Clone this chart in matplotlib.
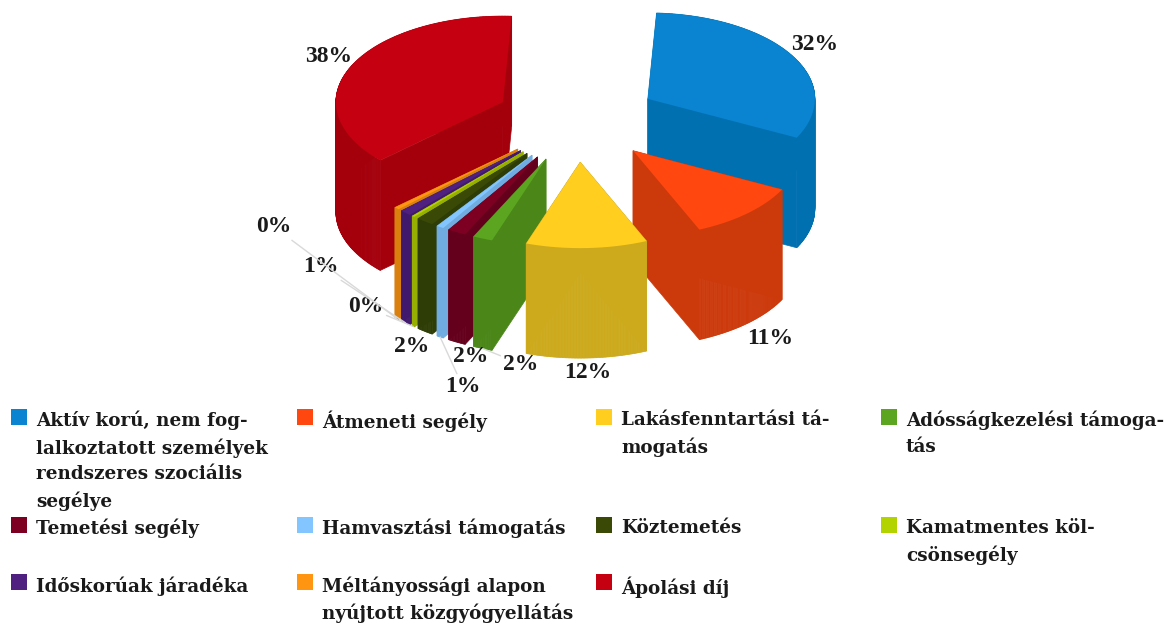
import numpy as np
import matplotlib
matplotlib.use("Agg")
import matplotlib.pyplot as plt
from matplotlib.patches import Rectangle

# ---- data ----
categories = [
    "Aktív korú, nem fog-\nlalkoztatott személyek\nrendszeres szociális\nsegélye",
    "Átmeneti segély",
    "Lakásfenntartási tá-\nmogatás",
    "Adósságkezelési támoga-\ntás",
    "Temetési segély",
    "Hamvasztási támogatás",
    "Köztemetés",
    "Kamatmentes köl-\ncsönsegély",
    "Időskorúak járadéka",
    "Méltányossági alapon\nnyújtott közgyógyellátás",
    "Ápolási díj",
]
values = [31.8, 11.1, 11.8, 1.9, 1.8, 0.7, 1.7, 0.25, 1.1, 0.49, 37.9]
top_colors = ["#0A84D0", "#FF470F", "#FFCE1F", "#5BA520", "#7D0022", "#83C5FF",
              "#3A4A06", "#B3D300", "#4F2080", "#FF9510", "#C50010"]
wall_colors = ["#0070B0", "#CC3A0C", "#CDAA1C", "#4A8618", "#65001C", "#70ACDF",
               "#2E3D05", "#96AF00", "#41196C", "#D9800F", "#A4000C"]

# ---- layout (pixels) ----
CX, CY, RX, RY, DEPTH, EXPLODE, START = 577, 120, 167, 86, 110, 0.49, 3.0
label_centers = [(815, 45), (770, 338), (588, 372), (521, 364), (471, 357), (463, 387),
                 (412, 347), (366, 307), (321, 267), (274, 227), (329, 56)]
has_leader = [False, False, False, True, False, True, False, True, True, True, False]
legend_cols = [11, 297, 596, 881]
legend_rows = [409, 517, 574]
legend_slots = [(0, 0), (1, 0), (2, 0), (3, 0), (0, 1), (1, 1), (2, 1), (3, 1), (0, 2), (1, 2), (2, 2)]

fig = plt.figure(figsize=(11.67, 6.23), dpi=100, facecolor="white")
ax = fig.add_axes([0, 0, 1, 1])
ax.set_xlim(0, 1167)
ax.set_ylim(623, 0)
ax.axis("off")

vals = np.array(values)
edges = START + np.concatenate([[0], np.cumsum(vals)]) * 360.0 / vals.sum()


def ring(theta_deg):
    t = np.radians(theta_deg)
    return RX * np.sin(t), -RY * np.cos(t)


slices = []
for i in range(len(vals)):
    mid = (edges[i] + edges[i + 1]) / 2
    ox, oy = ring(mid)
    ax_, ay_ = CX + EXPLODE * ox, CY + EXPLODE * oy
    th = np.linspace(edges[i], edges[i + 1], max(8, int(edges[i + 1] - edges[i]) * 2))
    rx_, ry_ = ring(th)
    slices.append((ay_, i, ax_, rx_ + ax_, ry_ + ay_, mid))

for ay_, i, ax_, px, py, mid in sorted(slices, key=lambda s: s[0]):
    wc = wall_colors[i]
    # curved outer wall, one narrow quad per arc step
    for k in range(len(px) - 1):
        ax.fill([px[k], px[k + 1], px[k + 1], px[k]],
                [py[k], py[k + 1], py[k + 1] + DEPTH, py[k] + DEPTH],
                facecolor=wc, edgecolor=wc, lw=0.5, zorder=2)
    # the two radial walls
    for k in (0, -1):
        ax.fill([ax_, px[k], px[k], ax_], [ay_, py[k], py[k] + DEPTH, ay_ + DEPTH],
                facecolor=wc, edgecolor=wc, lw=0.5, zorder=2)
    # top face
    ax.fill(np.r_[ax_, px], np.r_[ay_, py], color=top_colors[i], lw=0, zorder=2)

for ay_, i, ax_, px, py, mid in slices:
    if has_leader[i]:
        ox, oy = ring(mid)
        tip = (ax_ + ox, ay_ + oy + DEPTH)
        kw = dict(xy=tip, arrowprops=dict(arrowstyle="-", color="#D9D9D9", lw=1, shrinkA=0, shrinkB=0))
    else:
        kw = dict(xy=label_centers[i])
    ax.annotate(f"{values[i]:.0f}%", xytext=label_centers[i], ha="center", va="center",
                family="Liberation Serif", weight="bold", fontsize=17, color="#1A1A1A",
                zorder=3, **kw)

for i, name in enumerate(categories):
    c, r = legend_slots[i]
    x, y = legend_cols[c], legend_rows[r]
    ax.add_patch(Rectangle((x, y), 16, 16, facecolor=top_colors[i], edgecolor="none", zorder=2))
    ax.text(x + 25, y + 2, name, ha="left", va="top", family="DejaVu Serif", weight="bold",
            fontsize=13.2, color="#1A1A1A", linespacing=1.52, zorder=3)

fig.savefig("out.png", dpi=100, facecolor="white")
